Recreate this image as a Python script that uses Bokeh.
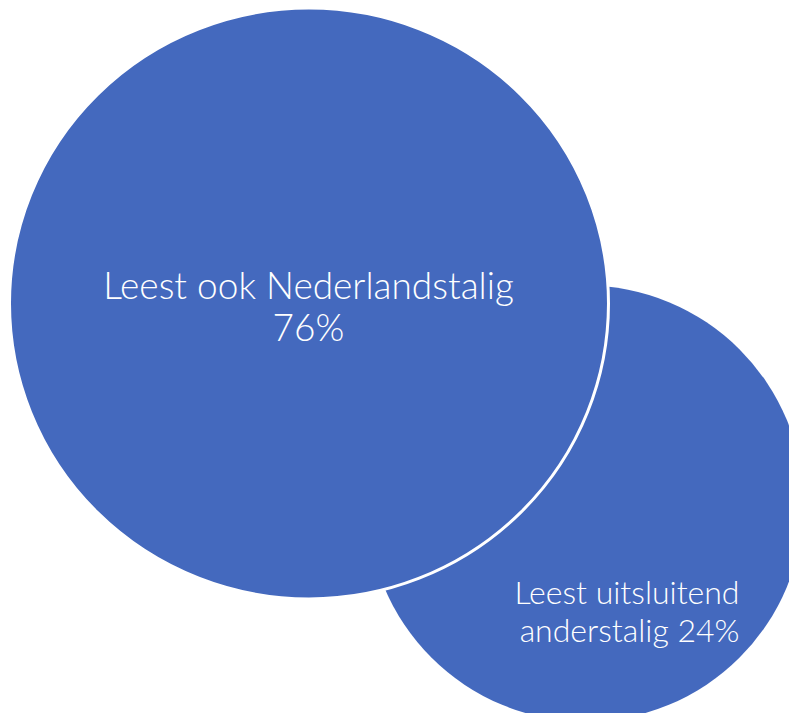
from bokeh.plotting import figure
from bokeh.models import Range1d
from bokeh.core.properties import value
from bokeh.embed import file_html
from bokeh.resources import INLINE

# Data
categories = ["Leest uitsluitend anderstalig", "Leest ook Nederlandstalig"]
shares = [24, 76]
label_lines = [["Leest uitsluitend", "anderstalig 24%"], ["Leest ook Nederlandstalig", "76%"]]

BLUE = "#4469BE"
FONT = value("Lato Light")

W, H = 789, 713
p = figure(width=W, height=H, output_backend="svg", toolbar_location=None,
           x_range=Range1d(0, W), y_range=Range1d(H, 0), min_border=0)
p.axis.visible = False
p.grid.visible = False
p.outline_line_color = None
p.background_fill_color = "white"
p.border_fill_color = "white"

# layout geometry (pixels of the reference image)
geo = {
    "Leest uitsluitend anderstalig": dict(x=585, y=503, w=436, h=436),
    "Leest ook Nederlandstalig": dict(x=308.5, y=303, w=599, h=591),
}

# small circle first (behind)
g = geo[categories[0]]
p.ellipse(x=[g["x"]], y=[g["y"]], width=[g["w"]], height=[g["h"]],
          fill_color=BLUE, line_color=None)
g = geo[categories[1]]
p.ellipse(x=[g["x"]], y=[g["y"]], width=[g["w"]], height=[g["h"]],
          fill_color=BLUE, line_color="white", line_width=3)

# labels
big = label_lines[1]
p.text(x=[308, 308], y=[284, 326], text=big, text_align="center",
       text_baseline="alphabetic", text_color="white", text_font=FONT,
       text_font_size="37px")
small = label_lines[0]
p.text(x=[739, 739], y=[591, 629], text=small, text_align="right",
       text_baseline="alphabetic", text_color="white", text_font=FONT,
       text_font_size="32px")

open("out.html", "w").write(file_html(p, INLINE))
